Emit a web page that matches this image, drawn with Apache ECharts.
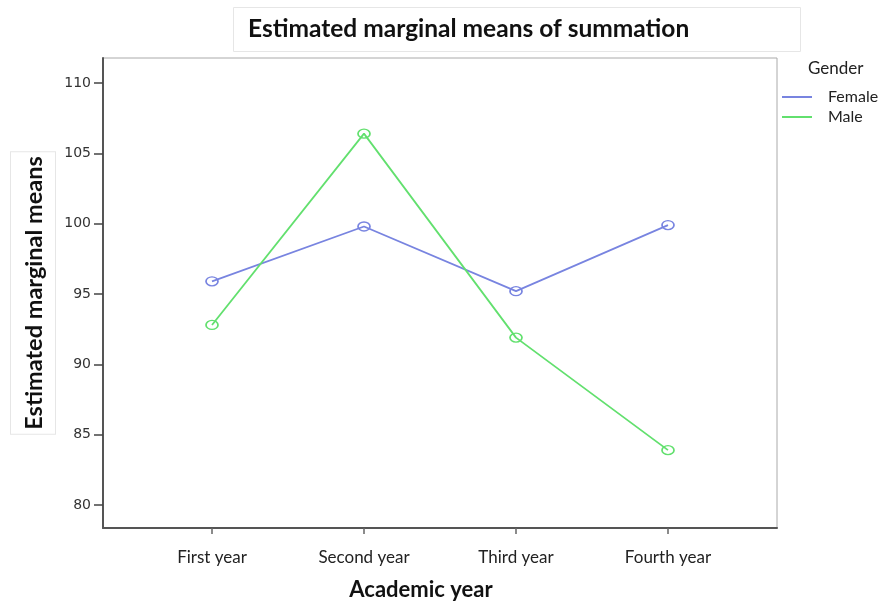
<!DOCTYPE html>
<html>
<head>
<meta charset="utf-8">
<script src="https://cdn.jsdelivr.net/npm/echarts@6/dist/echarts.min.js"></script>
<style>html,body{margin:0;padding:0;background:#fff}#c{width:883px;height:605px}</style>
</head>
<body>
<div id="c"></div>
<script>
var categories = ['First year', 'Second year', 'Third year', 'Fourth year'];
var femaleValues = [95.9, 99.8, 95.2, 99.9];
var maleValues = [92.8, 106.4, 91.9, 83.9];
var yTicks = [80, 85, 90, 95, 100, 105, 110];
var seriesNames = ['Female', 'Male'];
var seriesColors = ['#7884e0', '#62e06e'];

var chart = echarts.init(document.getElementById('c'));
var font = 'Lato, "Open Sans", sans-serif';
chart.setOption({
  animation: false,
  backgroundColor: '#fff',
  title: {
    text: 'Estimated marginal means of summation',
    left: 233, top: 7,
    padding: [10, 112, 10, 15],
    borderColor: '#e6e6e6', borderWidth: 1,
    textStyle: { fontFamily: font, fontWeight: 'bold', fontSize: 24.5, color: '#111' }
  },
  legend: {
    data: [
      { name: seriesNames[0], itemStyle: { color: seriesColors[0], borderWidth: 0 } },
      { name: seriesNames[1], itemStyle: { color: seriesColors[1], borderWidth: 0 } }
    ],
    orient: 'vertical',
    left: 782, top: 89, padding: 0,
    itemWidth: 30, itemHeight: 2, itemGap: 4,
    icon: 'rect',
    itemStyle: { borderWidth: 0 },
    textStyle: { fontFamily: font, fontSize: 16, color: '#222', padding: [0, 0, 0, 11] }
  },
  graphic: [{
    type: 'text', left: 808, top: 60,
    style: { text: 'Gender', font: '17px Lato, sans-serif', fill: '#222' }
  }],
  grid: [
    { left: 212, right: 215, top: 83, bottom: 100, outerBoundsMode: 'none' },
    { left: 103, right: 106, top: 58, bottom: 77, outerBoundsMode: 'none', show: true, borderColor: '#aaa', borderWidth: 1, backgroundColor: 'transparent' }
  ],
  xAxis: [{
    gridIndex: 0, type: 'category', data: categories, boundaryGap: false,
    offset: 23,
    axisLine: { show: false },
    axisTick: { show: true, length: 6, lineStyle: { color: '#666', width: 1.5 } },
    axisLabel: { fontFamily: font, fontSize: 17, color: '#222', margin: 21 },
    name: 'Academic year', nameLocation: 'middle', nameGap: 51,
    nameTextStyle: { fontFamily: font, fontWeight: 'bold', fontSize: 22, color: '#111', padding: [0, 38, 0, 0] },
    splitLine: { show: false }
  }, {
    gridIndex: 1, type: 'value', min: 0, max: 1,
    axisLine: { show: true, onZero: false, lineStyle: { color: '#555', width: 2 } },
    axisTick: { show: false }, axisLabel: { show: false }, splitLine: { show: false }
  }],
  yAxis: [{
    gridIndex: 0, type: 'value', min: yTicks[0], max: yTicks[yTicks.length - 1], interval: 5,
    offset: 109,
    axisLine: { show: false },
    axisTick: { show: true, length: 9, lineStyle: { color: '#444', width: 1.5 } },
    axisLabel: { fontFamily: '"DejaVu Sans", sans-serif', fontSize: 14, color: '#333', margin: 12 },
    splitLine: { show: false }
  }, {
    gridIndex: 1, type: 'value', min: 0, max: 1,
    axisLine: { show: true, onZero: false, lineStyle: { color: '#555', width: 2 } },
    axisTick: { show: false }, axisLabel: { show: false }, splitLine: { show: false },
    name: 'Estimated marginal means', nameLocation: 'middle', nameGap: 48,
    nameTextStyle: {
      fontFamily: font, fontWeight: 'bold', fontSize: 23.5, color: '#111',
      borderColor: '#e6e6e6', borderWidth: 1, padding: [11, 4, 9, 4], backgroundColor: '#fff'
    }
  }],
  series: [{
    name: seriesNames[0], type: 'line', xAxisIndex: 0, yAxisIndex: 0,
    data: femaleValues,
    symbol: 'circle', symbolSize: [12, 9],
    lineStyle: { color: seriesColors[0], width: 1.8 },
    itemStyle: { color: 'transparent', borderColor: seriesColors[0], borderWidth: 1.5 }
  }, {
    name: seriesNames[1], type: 'line', xAxisIndex: 0, yAxisIndex: 0,
    data: maleValues,
    symbol: 'circle', symbolSize: [12, 9],
    lineStyle: { color: seriesColors[1], width: 1.8 },
    itemStyle: { color: 'transparent', borderColor: seriesColors[1], borderWidth: 1.5 }
  }]
});
</script>
</body>
</html>
